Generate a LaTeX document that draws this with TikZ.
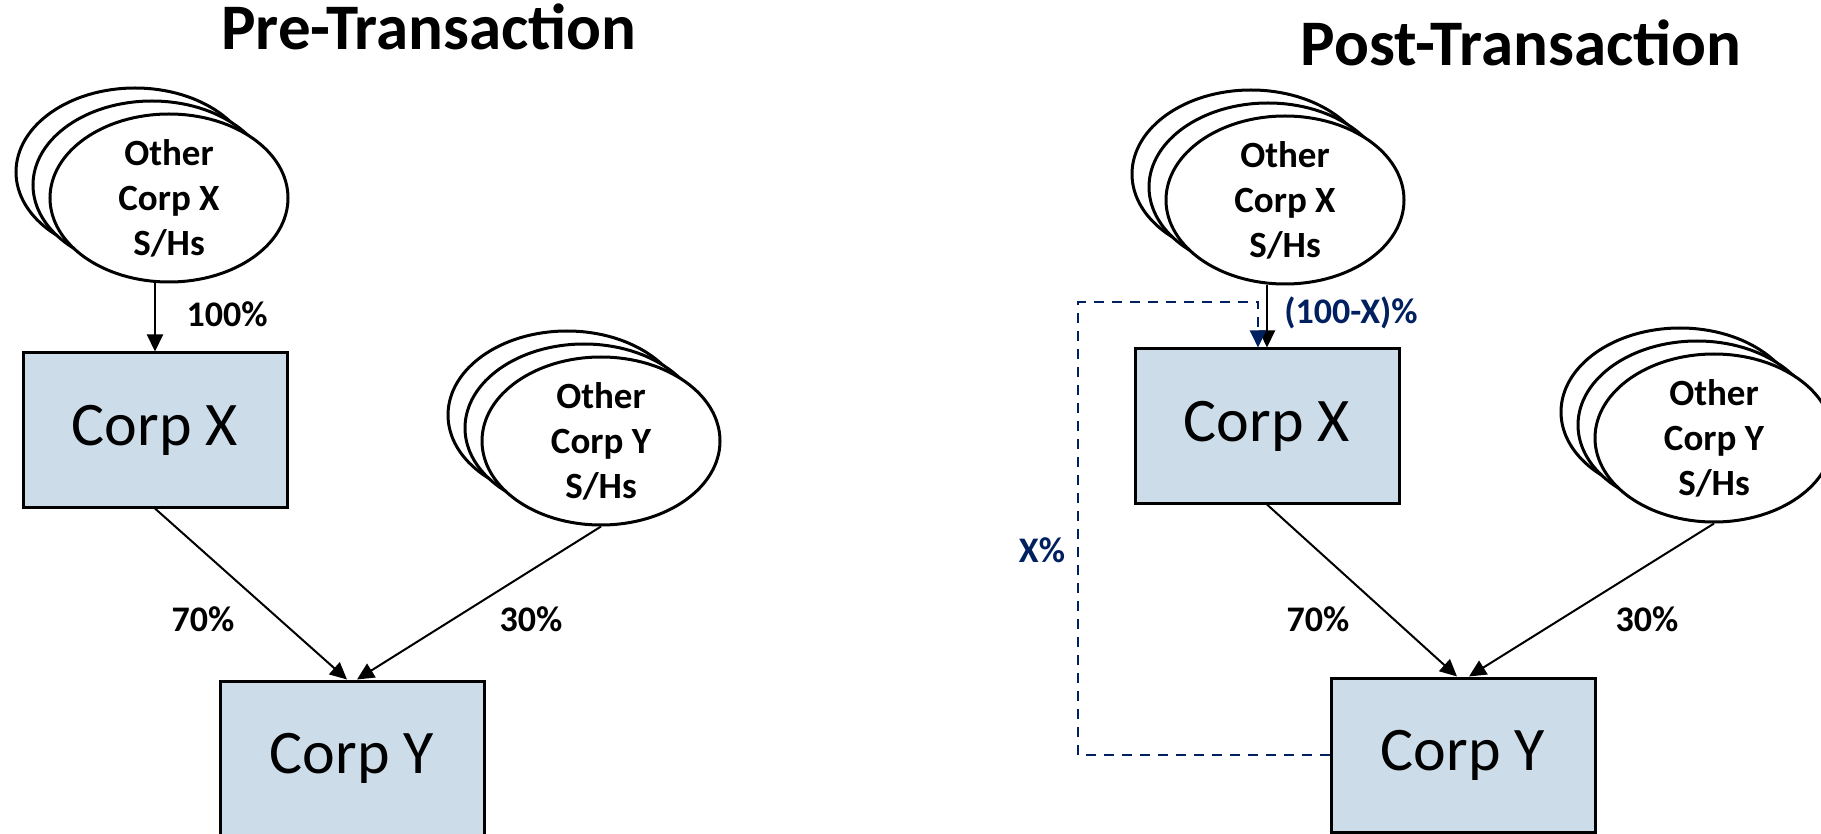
\documentclass[tikz,border=0pt]{standalone}
\usepackage{fontspec}
\setmainfont{Carlito}
\usepackage{xcolor}
\usetikzlibrary{shapes.geometric, arrows.meta, positioning, shadows}

\definecolor{boxblue}{RGB}{204,221,233}
\definecolor{navy}{RGB}{0,32,96}

\begin{document}
\begin{tikzpicture}[
  x=0.5pt, y=-0.5pt,
  corp/.style={draw, line width=1.5pt, fill=boxblue, minimum width=132pt, minimum height=77pt,
               inner sep=0pt, font=\fontsize{31}{37}\selectfont},
  holders/.style={ellipse, draw, line width=1.5pt, fill=white, minimum width=119pt, minimum height=84pt,
               inner xsep=0pt, inner ysep=-6pt, align=center,
               font=\fontsize{18.5}{22.5}\selectfont\bfseries,
               copy shadow={shadow xshift=-17pt, shadow yshift=13pt, line width=1.5pt},
               copy shadow={shadow xshift=-8.5pt, shadow yshift=6.5pt, line width=1.5pt}},
  pct/.style={font=\fontsize{18}{22}\selectfont\bfseries},
  heading/.style={font=\fontsize{32.5}{38}\selectfont\bfseries},
  arr/.style={-{Triangle[length=8.5pt, width=8pt]}, line width=1pt},
  backarr/.style={dashed, dash pattern=on 5pt off 4pt, draw=navy, line width=1pt,
                  -{Triangle[length=8.5pt, width=8pt, fill=navy]}}
]
\useasboundingbox (0,0) rectangle (1821,834);

%% ---- Left: before the deal ----
\node[heading] (preT) at (429,27) {Pre-Transaction};

\node[holders] (LOX) at (169,198) {Other\\Corp X\\S/Hs};
\node[holders] (LOY) at (601,441) {Other\\Corp Y\\S/Hs};
\node[corp] (LCX) at (155,430) {Corp X};
\node[corp] (LCY) at (352,758) {Corp Y};

\draw[arr] (LOX.south -| LCX.north) -- (LCX.north);
\draw[arr] (LCX.south) -- ([xshift=-2.5pt]LCY.north);
\draw[arr] (LOY.south) -- ([xshift=2.5pt]LCY.north);

\node[pct] (L100) at (227,314) {100\%};
\node[pct] (L70)  at (203,619) {70\%};
\node[pct] (L30)  at (531,619) {30\%};

%% ---- Right: after the deal ----
\node[heading] (postT) at (1521,43) {Post-Transaction};

\node[holders] (ROX) at (1285,200) {Other\\Corp X\\S/Hs};
\node[holders] (ROY) at (1714,438) {Other\\Corp Y\\S/Hs};
\node[corp] (RCX) at (1267,426) {Corp X};
\node[corp] (RCY) at (1463,755) {Corp Y};

\draw[arr] (ROX.south -| RCX.north) -- (RCX.north);
\draw[arr] (RCX.south) -- ([xshift=-3pt]RCY.north);
\draw[arr] (ROY.south) -- ([xshift=3pt]RCY.north);

% Corp Y stake going back up to Corp X
\coordinate (bend) at (1078,302);
\draw[backarr] (RCY.west) -| (bend) -| ([xshift=-4.5pt]RCX.north);

\node[pct, navy] (R100) at (1351,313) {(100-X)\%};
\node[pct, navy] (RX)   at (1042,550) {X\%};
\node[pct] (R70) at (1318,619) {70\%};
\node[pct] (R30) at (1647,619) {30\%};

\end{tikzpicture}
\end{document}
